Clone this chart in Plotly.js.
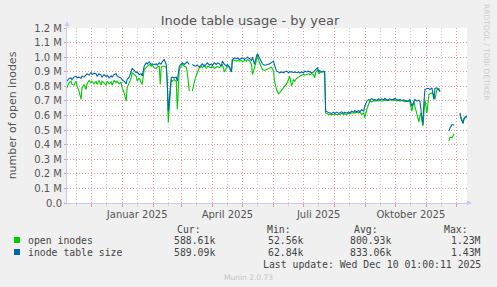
<!DOCTYPE html>
<html><head><meta charset="utf-8">
<script src="https://cdn.plot.ly/plotly-3.0.1.min.js"></script>
<style>html,body{margin:0;padding:0;background:#f0f0f0;}#chart{width:497px;height:287px;}</style>
</head><body><div id="chart"></div>
<script>
// day offsets relative to 2025-01-01
const days = [-55,-53,-51,-50,-48,-46,-45,-43,-41,-40,-38,-36,-35,-33,-31,-30,-28,-26,-25,-23,-21,-20,-18,-16,-15,-13,-11,-10,-8,-6,-5,-3,-1,0,2,4,5,7,9,10,12,14,15,17,19,20,22,24,25,27,29,30,32,34,35,37,38,39,40,42,44,45,46,48,49,50,52,54,55,57,59,60,62,64,65,67,69,70,72,73,75,77,79,80,82,84,85,87,89,90,92,94,95,97,99,100,102,104,105,107,109,110,112,114,115,117,119,120,122,124,125,127,129,130,132,134,135,137,139,140,142,144,145,147,149,151,152,154,156,157,159,161,162,164,166,167,169,171,172,174,176,177,179,181,182,184,186,187,189,191,192,193,195,196,197,199,201,202,203,206,207,209,211,212,214,216,217,219,221,222,224,226,227,229,231,232,234,236,237,239,241,242,244,246,247,249,251,252,254,256,257,259,261,262,264,266,267,269,271,272,274,276,277,279,281,282,284,286,287,289,291,292,294,296,297,298,300,301,302,304,306,307,309,311,312,314,316,317,320,326,327,329,331,334,337,338,340,341,343,344];
// inode table size (thousands)
const tableSizeK = [835,854,858,847,863,870,858,863,854,870,863,881,886,877,895,881,890,886,870,886,877,863,881,867,877,858,872,863,881,886,872,863,858,845,835,817,847,863,909,922,909,893,899,881,886,870,938,961,954,968,950,954,950,954,945,961,954,954,968,984,950,835,630,813,858,863,858,863,835,938,954,961,950,961,968,950,null,950,945,938,945,931,945,954,938,950,961,945,954,945,961,950,961,954,938,973,950,938,954,927,899,984,995,991,995,984,991,995,984,995,1000,991,977,1000,950,1007,1023,995,973,954,945,945,950,954,961,973,945,904,899,893,899,893,899,904,893,899,899,895,899,893,899,893,899,893,904,899,904,899,893,899,904,915,927,899,909,899,904,899,630,618,618,614,623,614,623,614,618,625,614,623,616,625,618,630,623,634,625,634,625,639,630,664,698,710,703,717,703,710,703,714,705,714,707,717,703,710,714,705,710,717,710,703,710,703,707,703,698,705,710,664,698,710,698,705,698,641,538,687,778,785,785,778,790,710,785,790,778,767,null,493,515,538,534,null,618,584,550,579,595,589];
// open inodes (thousands)
const openInodesK = [790,824,835,813,808,835,801,767,710,790,813,778,817,840,824,835,817,835,813,840,808,835,824,808,835,817,831,808,840,826,835,817,831,790,755,698,790,824,858,893,881,870,835,858,824,813,915,927,938,950,938,945,927,922,931,938,813,927,938,938,931,824,550,790,847,835,847,835,641,915,938,950,938,931,893,767,null,767,824,858,893,927,938,927,945,922,938,931,927,945,922,931,938,927,945,950,899,927,938,938,899,984,977,973,977,973,977,968,977,973,984,977,950,881,927,973,1007,961,927,915,909,915,915,922,931,904,835,778,749,755,771,794,801,817,847,870,801,847,835,854,863,870,877,881,877,881,886,881,886,881,858,893,915,886,893,899,899,893,618,607,607,607,611,607,607,611,607,614,607,611,607,616,611,618,616,618,623,618,625,607,618,584,641,675,698,694,703,698,703,698,705,698,705,703,710,703,705,710,703,710,698,705,698,703,698,694,698,698,694,630,698,664,607,557,595,618,527,664,710,618,744,749,755,744,710,778,785,762,null,424,451,447,474,null,611,579,543,575,592,589];

const legendNames = ['open inodes', 'inode table size'];
const legendColors = ['#00cc00', '#0066b3'];
const statHeaders = ['Cur:', 'Min:', 'Avg:', 'Max:'];
const statsOpen = ['588.61k', '52.56k', '800.93k', '1.23M'];
const statsTable = ['589.09k', '62.84k', '833.06k', '1.43M'];
const lastUpdate = 'Last update: Wed Dec 10 01:00:11 2025';

const monthStarts = ['2024-12-01','2025-01-01','2025-02-01','2025-03-01','2025-04-01','2025-05-01','2025-06-01','2025-07-01','2025-08-01','2025-09-01','2025-10-01','2025-11-01','2025-12-01'];
const midMonths = ['2024-11-16','2024-12-16','2025-01-16','2025-02-16','2025-03-16','2025-04-16','2025-05-16','2025-06-16','2025-07-16','2025-08-16','2025-09-16','2025-10-16','2025-11-16'];
const monthLabels = {'2025-01-16':'Januar 2025','2025-04-16':'April 2025','2025-07-16':'Juli 2025','2025-10-16':'Oktober 2025'};
const yTickVals = [0,100000,200000,300000,400000,500000,600000,700000,800000,900000,1000000,1100000,1200000];
const yTickText = ['0.0','0.1 M','0.2 M','0.3 M','0.4 M','0.5 M','0.6 M','0.7 M','0.8 M','0.9 M','1.0 M','1.1 M','1.2 M'];

const toDate = d => new Date(Date.UTC(2025,0,1) + d*864e5).toISOString().slice(0,10);
const xDates = days.map(toDate);
const scaleK = a => a.map(v => v === null ? null : v*1000);

const traces = [
  {x: xDates, y: scaleK(openInodesK), type:'scatter', mode:'lines', line:{color:legendColors[0], width:1.1}, connectgaps:false, hoverinfo:'skip'},
  {x: xDates, y: scaleK(tableSizeK), type:'scatter', mode:'lines', line:{color:legendColors[1], width:1.1}, connectgaps:false, hoverinfo:'skip'}
];

const px = p => (p - 67) / 400;
const py = p => (203 - p) / 175;
const mono = {family:'DejaVu Sans Mono', size:9.8, color:'#444'};
const ann = [];
const hdrRight = [203, 293, 380, 470];
const valRight = [217, 305, 393, 483];
statHeaders.forEach((h,i) => ann.push({xref:'paper', yref:'paper', x:px(hdrRight[i]), y:py(229), xanchor:'right', yanchor:'middle', text:h, showarrow:false, font:mono}));
[statsOpen, statsTable].forEach((row, r) => {
  const yy = py(240 + r*12);
  ann.push({xref:'paper', yref:'paper', x:px(17), y:yy, xanchor:'center', yanchor:'middle', text:' ', width:6, height:6, bgcolor:legendColors[r], borderpad:0, borderwidth:0, showarrow:false, font:{size:4}});
  ann.push({xref:'paper', yref:'paper', x:px(26), y:yy, xanchor:'left', yanchor:'middle', text:legendNames[r], showarrow:false, font:mono});
  row.forEach((v,i) => ann.push({xref:'paper', yref:'paper', x:px(valRight[i]), y:yy, xanchor:'right', yanchor:'middle', text:v, showarrow:false, font:mono}));
});
ann.push({xref:'paper', yref:'paper', x:px(483), y:py(264), xanchor:'right', yanchor:'middle', text:lastUpdate, showarrow:false, font:mono});
ann.push({xref:'paper', yref:'paper', x:px(248), y:py(277), xanchor:'center', yanchor:'middle', text:'Munin 2.0.73', showarrow:false, font:{family:'DejaVu Sans', size:7.5, color:'#c4c4c4'}});
ann.push({xref:'paper', yref:'paper', x:px(487), y:py(52), xanchor:'center', yanchor:'middle', text:'RRDTOOL / TOBI OETIKER', textangle:90, showarrow:false, font:{family:'DejaVu Sans', size:7.5, color:'#cccccc'}});
ann.push({xref:'paper', yref:'paper', x:0, y:py(21), ax:0, ay:8, text:'', showarrow:true, arrowhead:2, arrowsize:1, arrowwidth:1, arrowcolor:'#c8ccf4'});
ann.push({xref:'paper', yref:'paper', x:px(472), y:0, ax:-8, ay:0, text:'', showarrow:true, arrowhead:2, arrowsize:1, arrowwidth:1, arrowcolor:'#c8ccf4'});

const redGrid = 'rgba(232,140,140,0.85)';
const grayGrid = 'rgba(200,200,200,0.9)';
const layout = {
  width:497, height:287,
  margin:{l:67, r:30, t:28, b:84, pad:0},
  paper_bgcolor:'#f0f0f0', plot_bgcolor:'#ffffff',
  showlegend:false, hovermode:false,
  title:{text:'Inode table usage - by year', x:250/497, xanchor:'center', y:1-20/287, yanchor:'middle', font:{family:'DejaVu Sans', size:13, color:'#555'}},
  xaxis:{
    type:'date', range:['2024-11-07','2025-12-11'], fixedrange:true,
    tickvals:midMonths, ticktext:midMonths.map(m => monthLabels[m] || ''),
    tickfont:{family:'DejaVu Sans', size:10, color:'#555'},
    ticks:'outside', ticklen:2, tickcolor:grayGrid,
    showgrid:true, gridcolor:grayGrid, griddash:'1px,2px', gridwidth:1,
    minor:{tickvals:monthStarts, showgrid:true, gridcolor:redGrid, griddash:'1px,2px', gridwidth:1, ticks:'outside', ticklen:3, tickcolor:redGrid},
    showline:true, linecolor:'#c8ccf4', linewidth:1, zeroline:false
  },
  yaxis:{
    range:[0,1200000], fixedrange:true,
    tickvals:yTickVals, ticktext:yTickText,
    tickfont:{family:'DejaVu Sans', size:10, color:'#555'},
    ticks:'outside', ticklen:2, tickcolor:redGrid,
    showgrid:true, gridcolor:redGrid, griddash:'1px,2px', gridwidth:1,
    showline:true, linecolor:'#c8ccf4', linewidth:1, zeroline:false,
    title:{text:'number of open inodes', font:{family:'DejaVu Sans', size:11, color:'#555'}, standoff:15}
  },
  annotations:ann
};
Plotly.newPlot('chart', traces, layout, {staticPlot:true, displayModeBar:false});
</script></body></html>
